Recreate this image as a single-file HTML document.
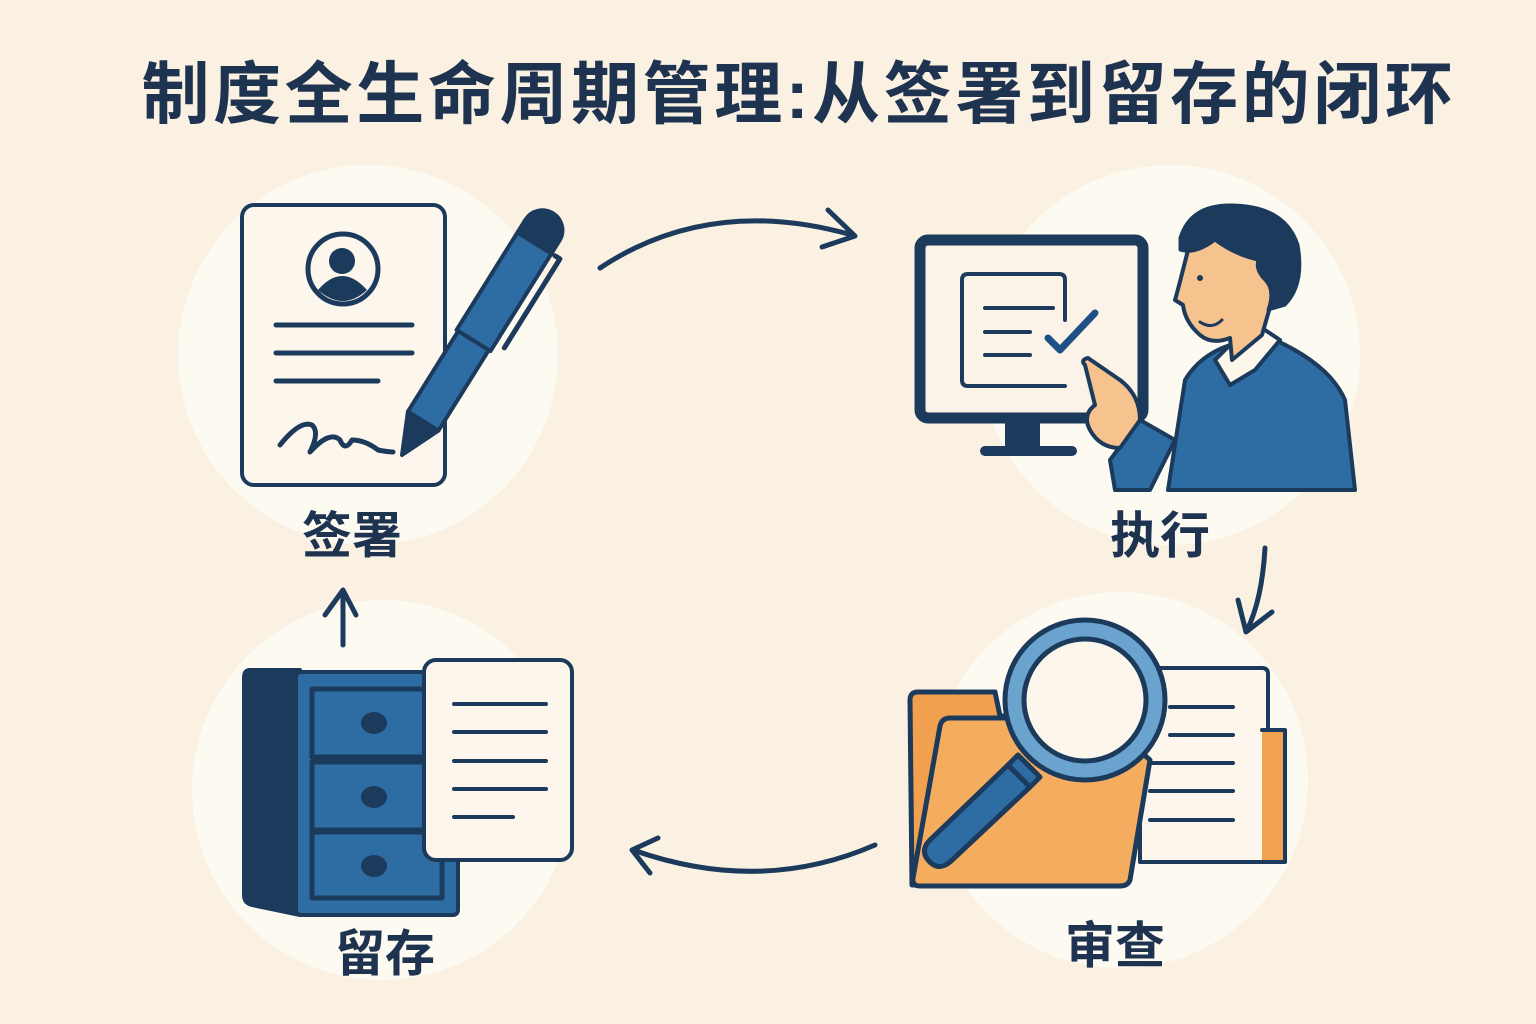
<!DOCTYPE html>
<html><head><meta charset="utf-8">
<style>
html,body{margin:0;padding:0;background:#fbf1e2;}
svg{display:block}
text{font-family:"Liberation Sans","Noto Sans CJK SC",sans-serif;font-weight:bold;fill:#1e3350}
</style></head>
<body>
<svg width="1536" height="1024" viewBox="0 0 1536 1024" xmlns="http://www.w3.org/2000/svg">
<rect width="1536" height="1024" fill="#fbf1e2"/>
<text x="799" y="118" font-size="68" text-anchor="middle" letter-spacing="3.6">制度全生命周期管理:从签署到留存的闭环</text>

<g fill="#fdfaf2">
<circle cx="368" cy="355" r="190"/>
<circle cx="1170" cy="355" r="190"/>
<circle cx="1120" cy="780" r="188"/>
<circle cx="382" cy="790" r="190"/>
</g>

<g stroke="#1b3a5c" stroke-linecap="round" stroke-linejoin="round" fill="none">
<rect x="242" y="205" width="203" height="280" rx="12" fill="#fcf6ec" stroke-width="4"/>
<circle cx="343" cy="269" r="35" fill="#fcf6ec" stroke-width="5"/>
<circle cx="342" cy="261" r="13" fill="#1b3a5c" stroke="none"/>
<path d="M318 290 Q342 262 367 290 Q343 312 318 290Z" fill="#1b3a5c" stroke="none"/>
<line x1="276" y1="325" x2="412" y2="325" stroke-width="5"/>
<line x1="276" y1="353" x2="412" y2="353" stroke-width="5"/>
<line x1="276" y1="381" x2="378" y2="381" stroke-width="5"/>
<path d="M280 445 Q300 420 312 425 Q320 432 310 452 Q330 430 340 440 Q345 452 352 440 Q365 440 378 450 Q388 452 393 452" stroke-width="5"/>
<g transform="translate(402,455) rotate(-58)">
<path d="M0 0 L40 -18 L40 18 Z" fill="#1b3a5c" stroke-width="4"/>
<rect x="40" y="-18" width="95" height="36" fill="#2e6da4" stroke-width="4"/>
<rect x="135" y="-20" width="115" height="40" fill="#2e6da4" stroke-width="4"/>
<path d="M250 -20 L265 -20 A20 20 0 0 1 265 20 L250 20Z" fill="#1b3a5c" stroke-width="4"/>
<path d="M250 24 L250 30 L145 30" stroke-width="5"/>
</g>

<rect x="920" y="240" width="223" height="178" rx="8" fill="#fbf3e8" stroke-width="11"/>
<rect x="1005" y="420" width="35" height="30" fill="#1b3a5c" stroke="none"/>
<rect x="980" y="446" width="97" height="10" rx="5" fill="#1b3a5c" stroke="none"/>
<path d="M1065 320 L1065 280 Q1065 274 1059 274 L968 274 Q962 274 962 280 L962 380 Q962 386 968 386 L1065 386" stroke-width="4"/>
<line x1="985" y1="308" x2="1053" y2="308" stroke-width="4"/>
<line x1="985" y1="332" x2="1030" y2="332" stroke-width="4"/>
<line x1="985" y1="355" x2="1030" y2="355" stroke-width="4"/>
<path d="M1048 338 L1060 350 L1095 313" stroke="#1e4f86" stroke-width="7"/>
<path d="M1168 490 L1185 380 Q1200 355 1230 345 L1275 340 Q1330 365 1345 400 L1355 490 Z" fill="#2e6da4" stroke-width="4"/>
<path d="M1110 460 L1140 420 L1175 440 L1150 490 L1115 490Z" fill="#2e6da4" stroke-width="4"/>
<path d="M1215 360 L1230 385 L1255 370 L1280 340 L1265 330 L1230 345Z" fill="#fdf6ea" stroke-width="4"/>
<path d="M1188 250 Q1178 290 1175 300 L1183 305 Q1185 322 1200 335 Q1212 345 1230 338 L1232 360 L1262 335 L1272 300 Q1290 290 1282 270 Q1270 235 1230 230 Q1200 232 1188 250Z" fill="#f6c38e" stroke-width="4"/>
<path d="M1180 238 Q1190 205 1230 205 Q1285 205 1298 245 Q1305 285 1285 305 L1268 310 Q1275 290 1265 280 Q1255 270 1258 260 Q1235 255 1215 240 Q1195 255 1180 250Z" fill="#1b3a5c" stroke-width="3"/>
<path d="M1200 322 Q1212 330 1222 320" stroke-width="3"/>
<circle cx="1200" cy="278" r="3" fill="#1b3a5c" stroke="none"/>
<path d="M1085 365 Q1080 360 1088 358 L1120 380 Q1140 395 1140 420 L1120 448 Q1100 448 1090 430 Q1082 415 1095 405 Z" fill="#f6c38e" stroke-width="4"/>

<path d="M1140 668 L1262 668 Q1268 668 1268 674 L1268 862 L1140 862Z" fill="#fcf6ec" stroke-width="4"/>
<path d="M1262 730 L1285 730 L1285 862 L1262 862" fill="#f2a14e" stroke-width="4"/>
<line x1="1170" y1="707" x2="1233" y2="707" stroke-width="4"/>
<line x1="1170" y1="735" x2="1233" y2="735" stroke-width="4"/>
<line x1="1150" y1="763" x2="1233" y2="763" stroke-width="4"/>
<line x1="1150" y1="791" x2="1233" y2="791" stroke-width="4"/>
<line x1="1150" y1="820" x2="1233" y2="820" stroke-width="4"/>
<path d="M910 700 Q910 692 918 692 L995 692 L1000 716 L1010 716 L1010 885 L912 885 Z" fill="#f0a04f" stroke-width="5"/>
<path d="M940 726 Q942 718 950 718 L1105 718 Q1112 718 1112 726 L1150 760 L1130 880 Q1128 886 1120 886 L920 886 Q912 886 913 878 Z" fill="#f4ac5f" stroke-width="5"/>
<g stroke-width="5">
<path d="M1008 765 L1030 787 L950 862 Q938 872 928 860 Q920 850 930 840 Z" fill="#2e6da4"/>
<path d="M1008 765 L1030 787 L1040 777 L1018 755Z" fill="#2e6da4"/>
<circle cx="1085" cy="700" r="80" fill="#6ba3cf"/>
<circle cx="1085" cy="700" r="61" fill="#fcf6ec"/>
</g>

<path d="M250 670 L300 670 L300 915 L252 905 Q244 903 244 895 L244 678 Q244 670 250 670Z" fill="#1b3a5c" stroke-width="4"/>
<rect x="296" y="672" width="162" height="243" rx="5" fill="#2e6da4" stroke-width="4"/>
<g fill="#2e6da4" stroke-width="5">
<rect x="312" y="689" width="130" height="68"/>
<rect x="312" y="762" width="130" height="68"/>
<rect x="312" y="832" width="130" height="66"/>
</g>
<g fill="#1b3a5c" stroke="none">
<ellipse cx="374" cy="723" rx="13" ry="11"/>
<ellipse cx="374" cy="797" rx="13" ry="11"/>
<ellipse cx="374" cy="866" rx="13" ry="11"/>
</g>
<rect x="424" y="660" width="148" height="200" rx="12" fill="#fcf6ec" stroke-width="4"/>
<g stroke-width="4">
<line x1="454" y1="704" x2="546" y2="704"/>
<line x1="454" y1="732" x2="546" y2="732"/>
<line x1="454" y1="761" x2="546" y2="761"/>
<line x1="454" y1="789" x2="546" y2="789"/>
<line x1="454" y1="817" x2="513" y2="817"/>
</g>

<g stroke-width="5">
<path d="M600 268 Q710 195 852 235"/>
<path d="M828 210 L855 236 L822 247"/>
<path d="M1265 548 Q1262 600 1247 630"/>
<path d="M1238 600 L1246 632 L1272 612"/>
<path d="M875 845 Q760 895 633 850"/>
<path d="M658 838 L632 850 L650 873"/>
<path d="M343 645 L343 592"/>
<path d="M325 615 L343 590 L356 615"/>
</g>
</g>

<text x="352" y="553" font-size="50" text-anchor="middle">签署</text>
<text x="1160" y="553" font-size="50" text-anchor="middle">执行</text>
<text x="1115" y="963" font-size="50" text-anchor="middle">审查</text>
<text x="385" y="971" font-size="50" text-anchor="middle">留存</text>
</svg>
</body></html>
